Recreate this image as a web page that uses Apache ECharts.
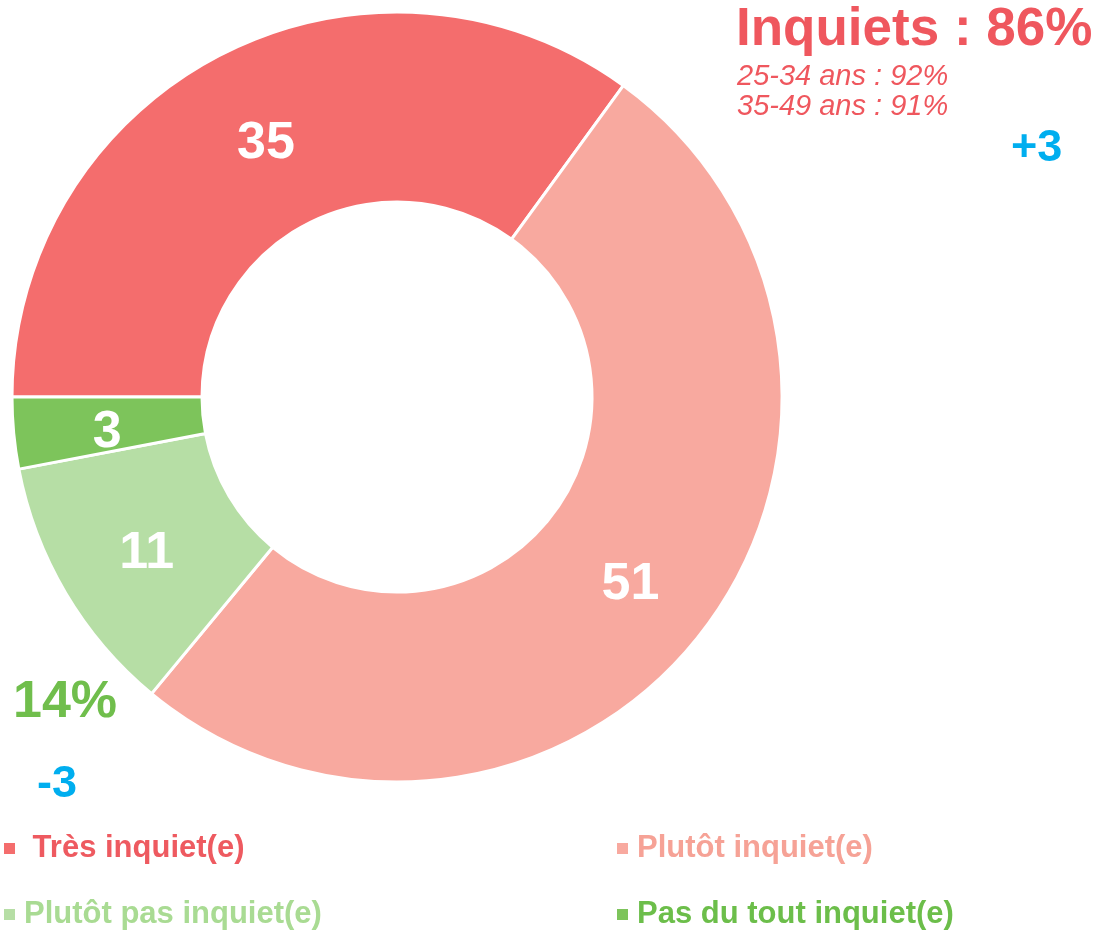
<!DOCTYPE html>
<html><head><meta charset="utf-8">
<script src="https://cdn.jsdelivr.net/npm/echarts@6/dist/echarts.min.js"></script>
<style>html,body{margin:0;padding:0;background:#fff}#c{width:1100px;height:930px}</style>
</head><body><div id="c"></div>
<script>
var categories = ['Très inquiet(e)', 'Plutôt inquiet(e)', 'Plutôt pas inquiet(e)', 'Pas du tout inquiet(e)'];
var values = [35, 51, 11, 3];
var colors = ['#F46D6D', '#F8A99F', '#B6DEA5', '#7DC45B'];
var legendTextColors = ['#EE5A60', '#F6A296', '#A9DB93', '#6CBE4A'];
var legendLabels = [' Très inquiet(e)', 'Plutôt inquiet(e)', 'Plutôt pas inquiet(e)', 'Pas du tout inquiet(e)'];
var titleText = 'Inquiets : 86%';
var subLines = ['25-34 ans : 92%', '35-49 ans : 91%'];
var deltaTop = '+3';
var notWorried = '14%';
var deltaBottom = '-3';

var FONT = '"Liberation Sans", Arial, sans-serif';
var chart = echarts.init(document.getElementById('c'), null, {renderer: 'canvas'});

var legendPos = [[4, 833], [617, 833], [4, 899], [617, 899]];
var legends = categories.map(function (c, i) {
  return {
    data: [c],
    left: legendPos[i][0], top: legendPos[i][1],
    padding: 0,
    itemWidth: 11, itemHeight: 11, icon: 'rect', itemGap: 0,
    itemStyle: {borderWidth: 0},
    selectedMode: false,
    formatter: function () { return legendLabels[i]; },
    textStyle: {color: legendTextColors[i], fontFamily: FONT, fontWeight: 'bold', fontSize: 31, padding: [0, 0, 0, 4]}
  };
});

chart.setOption({
  animation: false,
  color: colors,
  legend: legends,
  series: [{
    type: 'pie',
    center: [397, 397],
    radius: [195, 385],
    startAngle: 180,
    clockwise: true,
    avoidLabelOverlap: false,
    itemStyle: {borderColor: '#fff', borderWidth: 3},
    label: {
      show: true, position: 'inside', color: '#fff',
      fontFamily: FONT, fontWeight: 'bold', fontSize: 52,
      offset: [2, 8],
      formatter: function (p) { return p.value; }
    },
    labelLine: {show: false},
    emphasis: {disabled: true},
    data: categories.map(function (c, i) { return {name: c, value: values[i]}; })
  }],
  graphic: [
    {type: 'text', left: 736, top: 4, style: {text: titleText, fill: '#EF575E', font: 'bold 53px ' + FONT}},
    {type: 'text', left: 737, top: 62, style: {text: subLines[0], fill: '#EF575E', font: 'italic 29px ' + FONT}},
    {type: 'text', left: 737, top: 92, style: {text: subLines[1], fill: '#EF575E', font: 'italic 29px ' + FONT}},
    {type: 'text', left: 1011, top: 126, style: {text: deltaTop, fill: '#00AEEF', font: 'bold 45px ' + FONT}},
    {type: 'text', left: 13, top: 677, style: {text: notWorried, fill: '#70BE4C', font: 'bold 52px ' + FONT}},
    {type: 'text', left: 37, top: 762, style: {text: deltaBottom, fill: '#00AEEF', font: 'bold 45px ' + FONT}}
  ]
});
</script></body></html>
